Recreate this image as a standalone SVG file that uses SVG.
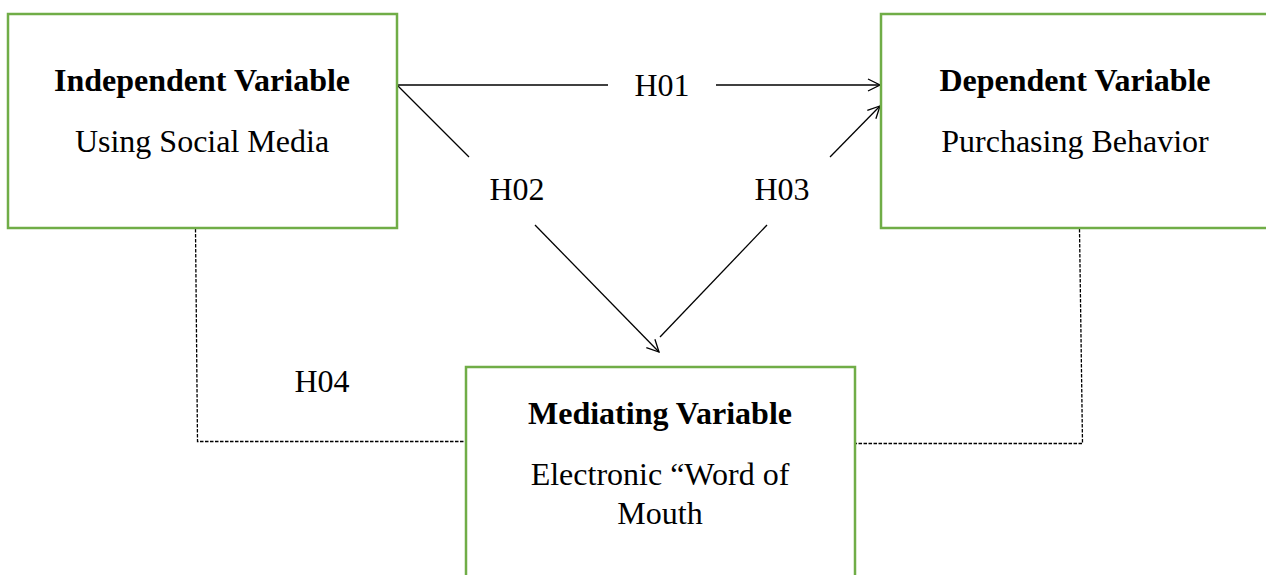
<svg xmlns="http://www.w3.org/2000/svg" width="1266" height="575" viewBox="0 0 1266 575">
<defs>
<style>
.box{fill:#fff;stroke:#70AD47;stroke-width:2.5}
.t{font-family:"Liberation Serif","Times New Roman",serif;font-size:32px;fill:#000;text-anchor:middle}
.b{font-weight:bold}
.ln{stroke:#000;stroke-width:1.3;fill:none}
.dash{stroke:#000;stroke-width:1.3;fill:none;stroke-dasharray:3.5,1.5}
</style>
<marker id="arr" markerWidth="14" markerHeight="14" refX="13" refY="7" orient="auto" markerUnits="userSpaceOnUse">
<path d="M1,1 L13,7 L1,13" fill="none" stroke="#000" stroke-width="1.3"/>
</marker>
</defs>
<g id="connectors">
<line class="ln" x1="397" y1="85" x2="608" y2="85"/>
<line class="ln" x1="716" y1="85" x2="880" y2="85" marker-end="url(#arr)"/>
<line class="ln" x1="397" y1="85" x2="469" y2="157"/>
<line class="ln" x1="535" y1="225" x2="659" y2="352" marker-end="url(#arr)"/>
<line class="ln" x1="767" y1="225" x2="660" y2="337"/>
<line class="ln" x1="830" y1="157" x2="880" y2="106" marker-end="url(#arr)"/>
<polyline class="dash" points="195.5,229 197.5,441.5 466,441.5"/>
<polyline class="dash" points="1079.5,229 1082.5,443.5 855,443.5"/>
<text class="t" x="662" y="96">H01</text>
<text class="t" x="517" y="200">H02</text>
<text class="t" x="782" y="200">H03</text>
<text class="t" x="322" y="392">H04</text>
</g>
<g id="independent">
<rect class="box" x="8" y="14" width="389" height="214"/>
<text class="t b" x="202" y="91">Independent Variable</text>
<text class="t" x="202" y="152">Using Social Media</text>
</g>
<g id="dependent">
<rect class="box" x="881" y="14" width="400" height="214"/>
<text class="t b" x="1075" y="91">Dependent Variable</text>
<text class="t" x="1075" y="152">Purchasing Behavior</text>
</g>
<g id="mediating">
<rect class="box" x="466" y="367" width="389" height="230"/>
<text class="t b" x="660" y="424">Mediating Variable</text>
<text class="t" x="660" y="485">Electronic “Word of</text>
<text class="t" x="660" y="524">Mouth</text>
</g>
</svg>
